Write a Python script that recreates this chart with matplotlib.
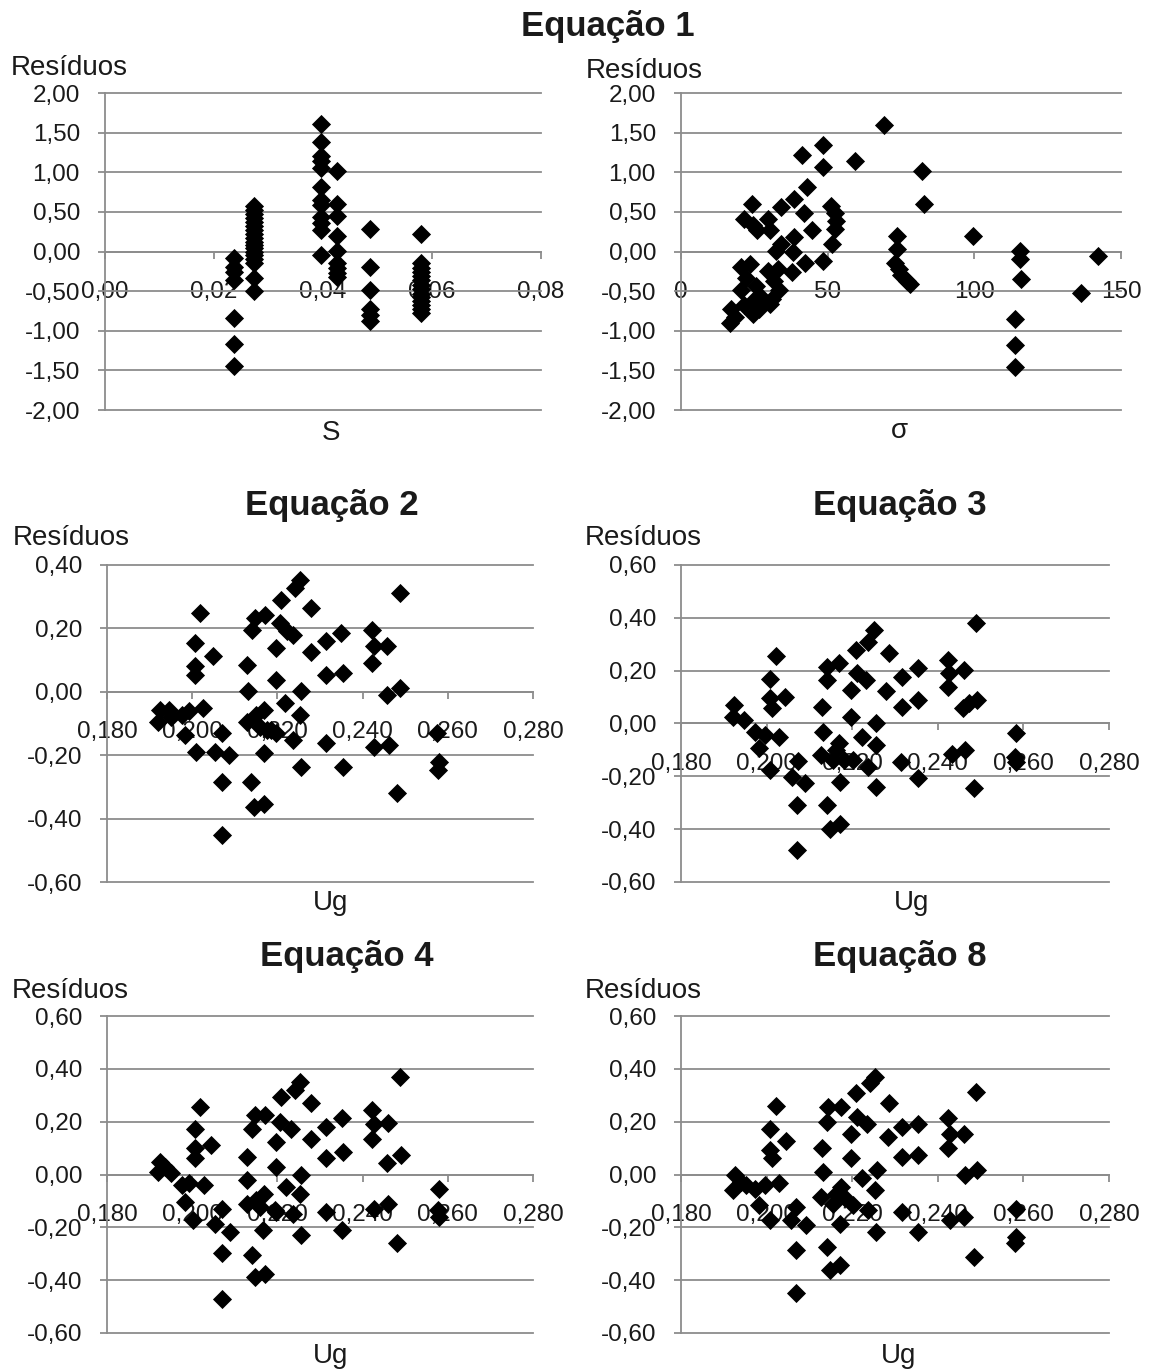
import matplotlib.pyplot as plt

plt.rcParams['font.family'] = ['Liberation Sans', 'DejaVu Sans']

# ---- Equação 1: resíduos x S ----
s_vals = [0.0237] * 7 + [0.0273] * 18 + [0.0396] * 12 + [0.0425] * 9 + [0.0486] * 6 + [0.0579] * 14
res_s = [-0.08, -0.19, -0.26, -0.36, -0.84, -1.17, -1.44,
         0.57, 0.52, 0.47, 0.42, 0.37, 0.32, 0.27, 0.22, 0.17, 0.12, 0.08, 0.04, 0.00, -0.04, -0.09, -0.14, -0.33, -0.50,
         1.61, 1.38, 1.21, 1.14, 1.05, 0.82, 0.65, 0.59, 0.44, 0.36, 0.27, -0.04,
         1.02, 0.60, 0.45, 0.19, 0.01, -0.15, -0.21, -0.27, -0.32,
         0.29, -0.19, -0.49, -0.72, -0.80, -0.88,
         0.22, -0.15, -0.21, -0.26, -0.31, -0.36, -0.42, -0.47, -0.53, -0.58, -0.63, -0.68, -0.73, -0.77]

# ---- Equação 1: resíduos x sigma ----
sigma_vals = [69.3, 48.4, 41.3, 59.3, 48.4, 82.0, 43.1, 38.6, 24.1, 34.2, 82.8, 51.1, 42.1, 52.4, 21.4, 29.8,
              52.8, 24.7, 26.0, 30.4, 44.6, 52.6, 73.5, 99.5, 38.6, 51.5, 34.2, 32.3, 73.7, 115.6, 38.3, 142.2,
              42.3, 48.4, 73.1, 115.6, 20.3, 23.5, 74.4, 32.9, 37.9, 29.8, 22.2, 31.6, 75.0, 115.8, 76.9, 78.1,
              20.3, 25.4, 33.5, 136.3, 27.3, 24.7, 30.4, 21.6, 17.2, 24.7, 18.5, 16.6, 113.9, 113.9, 113.9, 26.6, 31.0]
res_sigma = [1.60, 1.35, 1.22, 1.14, 1.06, 1.02, 0.82, 0.66, 0.60, 0.56, 0.60, 0.58, 0.48, 0.48, 0.41, 0.41,
             0.39, 0.33, 0.27, 0.27, 0.27, 0.29, 0.20, 0.20, 0.18, 0.10, 0.10, 0.01, 0.03, 0.01, -0.01, -0.06,
             -0.14, -0.12, -0.14, -0.09, -0.20, -0.16, -0.22, -0.22, -0.26, -0.24, -0.33, -0.37, -0.30, -0.35, -0.37, -0.41,
             -0.49, -0.43, -0.49, -0.52, -0.58, -0.62, -0.66, -0.68, -0.73, -0.79, -0.83, -0.90, -0.85, -1.18, -1.46, -0.73, -0.60]

# ---- Equação 2 ----
ug_eq2 = [0.1924, 0.1920, 0.1946, 0.1950, 0.1976, 0.1993, 0.1982, 0.2019, 0.2006, 0.2006, 0.2006, 0.2048, 0.2026,
          0.2009, 0.2070, 0.2054, 0.2086, 0.2070, 0.2070, 0.2128, 0.2130, 0.2141, 0.2148, 0.2171, 0.2128, 0.2150,
          0.2169, 0.2158, 0.2176, 0.2169, 0.2139, 0.2145, 0.2169, 0.2197, 0.2197, 0.2209, 0.2206, 0.2223, 0.2236,
          0.2197, 0.2219, 0.2236, 0.2241, 0.2254, 0.2255, 0.2252, 0.2255, 0.2278, 0.2280, 0.2315, 0.2315, 0.2315,
          0.2349, 0.2353, 0.2353, 0.2423, 0.2427, 0.2423, 0.2427, 0.2458, 0.2458, 0.2462, 0.2488, 0.2488, 0.2481,
          0.2575, 0.2579, 0.2577, 0.2184]
res_eq2 = [-0.057, -0.094, -0.057, -0.078, -0.073, -0.062, -0.136, 0.249, 0.154, 0.080, 0.054, 0.112, -0.052,
           -0.189, -0.131, -0.189, -0.199, -0.286, -0.452, 0.085, 0.001, 0.196, 0.233, 0.243, -0.094, -0.073,
           -0.057, -0.110, -0.120, -0.194, -0.286, -0.362, -0.355, 0.038, 0.138, 0.291, 0.217, 0.191, 0.180,
           -0.131, -0.036, -0.152, 0.328, 0.354, 0.001, -0.073, -0.236, 0.264, 0.127, 0.159, 0.054, -0.162,
           0.185, 0.059, -0.236, 0.196, 0.143, 0.091, -0.173, 0.143, -0.009, -0.168, 0.312, 0.012, -0.320,
           -0.131, -0.220, -0.247, -0.120]

# ---- Equação 3 ----
ug_eq3 = [0.1924, 0.1922, 0.1948, 0.1974, 0.1996, 0.1983, 0.2007, 0.2030, 0.2022, 0.2007, 0.2009, 0.2013, 0.2043,
          0.2073, 0.2059, 0.2089, 0.2071, 0.2071, 0.2129, 0.2132, 0.2141, 0.2141, 0.2170, 0.2127, 0.2162, 0.2168,
          0.2155, 0.2172, 0.2140, 0.2149, 0.2172, 0.2198, 0.2198, 0.2209, 0.2211, 0.2233, 0.2201, 0.2224, 0.2237,
          0.2250, 0.2256, 0.2256, 0.2237, 0.2256, 0.2285, 0.2280, 0.2317, 0.2317, 0.2315, 0.2353, 0.2353, 0.2353,
          0.2425, 0.2427, 0.2425, 0.2434, 0.2461, 0.2460, 0.2463, 0.2491, 0.2489, 0.2485, 0.2582, 0.2580, 0.2582,
          0.2181, 0.2474]
res_eq3 = [0.070, 0.026, 0.013, -0.031, -0.044, -0.094, -0.176, -0.050, 0.256, 0.169, 0.095, 0.058, 0.102,
           -0.142, -0.202, -0.227, -0.309, -0.480, 0.064, -0.031, 0.215, 0.165, 0.228, -0.120, -0.101, -0.075,
           -0.139, -0.221, -0.309, -0.398, -0.379, 0.127, 0.026, 0.279, 0.190, 0.165, -0.139, -0.050, 0.310,
           0.354, 0.001, -0.081, -0.164, -0.240, 0.266, 0.124, 0.177, 0.064, -0.145, 0.209, 0.089, -0.208,
           0.241, 0.190, 0.140, -0.117, 0.203, 0.058, -0.101, 0.089, 0.380, -0.246, -0.037, -0.126, -0.145,
           -0.139, 0.076]

# ---- Equação 4 ----
ug_eq4 = [0.1924, 0.1920, 0.1937, 0.1950, 0.1976, 0.1993, 0.1983, 0.2002, 0.2028, 0.2019, 0.2006, 0.2006, 0.2006,
          0.2045, 0.2070, 0.2054, 0.2089, 0.2070, 0.2070, 0.2128, 0.2128, 0.2141, 0.2148, 0.2171, 0.2128, 0.2150,
          0.2169, 0.2158, 0.2166, 0.2141, 0.2148, 0.2171, 0.2197, 0.2197, 0.2209, 0.2206, 0.2232, 0.2197, 0.2220,
          0.2236, 0.2241, 0.2254, 0.2255, 0.2254, 0.2255, 0.2278, 0.2280, 0.2315, 0.2315, 0.2315, 0.2351, 0.2353,
          0.2351, 0.2423, 0.2427, 0.2423, 0.2427, 0.2460, 0.2458, 0.2460, 0.2488, 0.2490, 0.2481, 0.2579, 0.2577,
          0.2579, 0.2194]
res_eq4 = [0.048, 0.010, 0.029, 0.004, -0.040, -0.034, -0.104, -0.173, -0.040, 0.256, 0.171, 0.099, 0.063,
           0.111, -0.129, -0.186, -0.217, -0.299, -0.470, 0.067, -0.021, 0.174, 0.225, 0.225, -0.110, -0.097,
           -0.072, -0.123, -0.211, -0.306, -0.388, -0.375, 0.029, 0.124, 0.294, 0.200, 0.174, -0.141, -0.047,
           -0.148, 0.320, 0.351, -0.003, -0.072, -0.230, 0.269, 0.136, 0.181, 0.061, -0.141, 0.212, 0.086,
           -0.211, 0.244, 0.193, 0.136, -0.129, 0.196, 0.042, -0.110, 0.370, 0.073, -0.261, -0.053, -0.135,
           -0.160, -0.135]

# ---- Equação 8 ----
ug_eq8 = [0.1927, 0.1922, 0.1940, 0.1953, 0.1974, 0.1996, 0.1983, 0.2007, 0.2030, 0.2022, 0.2007, 0.2009, 0.2013,
          0.2046, 0.2069, 0.2056, 0.2091, 0.2069, 0.2069, 0.2129, 0.2132, 0.2141, 0.2143, 0.2174, 0.2127, 0.2162,
          0.2174, 0.2155, 0.2172, 0.2140, 0.2149, 0.2172, 0.2198, 0.2198, 0.2209, 0.2211, 0.2235, 0.2201, 0.2224,
          0.2237, 0.2241, 0.2254, 0.2259, 0.2254, 0.2256, 0.2285, 0.2283, 0.2317, 0.2317, 0.2316, 0.2353, 0.2353,
          0.2353, 0.2425, 0.2429, 0.2425, 0.2429, 0.2461, 0.2463, 0.2461, 0.2489, 0.2491, 0.2485, 0.2582, 0.2582,
          0.2580, 0.2181]
res_eq8 = [-0.003, -0.059, -0.028, -0.040, -0.053, -0.040, -0.116, -0.173, -0.034, 0.259, 0.171, 0.092, 0.061,
           0.128, -0.123, -0.173, -0.192, -0.284, -0.448, 0.099, 0.010, 0.200, 0.256, 0.256, -0.085, -0.072,
           -0.047, -0.110, -0.186, -0.274, -0.360, -0.344, 0.061, 0.155, 0.307, 0.219, 0.193, -0.116, -0.015,
           -0.135, 0.345, 0.370, 0.016, -0.059, -0.217, 0.269, 0.143, 0.181, 0.067, -0.141, 0.193, 0.073,
           -0.217, 0.212, 0.155, 0.099, -0.173, 0.155, -0.003, -0.160, 0.313, 0.016, -0.312, -0.129, -0.236,
           -0.261, -0.085]

# ticks and labels
s_ticks = [0.0, 0.02, 0.04, 0.06, 0.08]
s_labels = ['0,00', '0,02', '0,04', '0,06', '0,08']
sigma_ticks = [0, 50, 100, 150]
sigma_labels = ['0', '50', '100', '150']
ug_ticks = [0.18, 0.20, 0.22, 0.24, 0.26, 0.28]
ug_labels = ['0,180', '0,200', '0,220', '0,240', '0,260', '0,280']
res1_ticks = [-2.0, -1.5, -1.0, -0.5, 0.0, 0.5, 1.0, 1.5, 2.0]
res1_labels = ['-2,00', '-1,50', '-1,00', '-0,50', '0,00', '0,50', '1,00', '1,50', '2,00']
res2_ticks = [-0.6, -0.4, -0.2, 0.0, 0.2, 0.4]
res2_labels = ['-0,60', '-0,40', '-0,20', '0,00', '0,20', '0,40']
res3_ticks = [-0.6, -0.4, -0.2, 0.0, 0.2, 0.4, 0.6]
res3_labels = ['-0,60', '-0,40', '-0,20', '0,00', '0,20', '0,40', '0,60']

W, H = 1151, 1371
GRID = '#8c8c8c'
TXT = '#1a1a1a'

fig = plt.figure(figsize=(W / 100, H / 100), dpi=100)


def px_axes(left, right, top, bottom):
    return fig.add_axes([left / W, 1 - bottom / H, (right - left) / W, (bottom - top) / H])


def excel_scatter(ax, x, y, xt, xl, yt, yl):
    ax.scatter(x, y, marker='D', s=95, color='black', linewidths=0, zorder=3, clip_on=False)
    ax.set_xlim(xt[0], xt[-1])
    ax.set_ylim(yt[0], yt[-1])
    ax.set_xticks(xt)
    ax.set_xticklabels(xl)
    ax.set_yticks(yt)
    ax.set_yticklabels(yl)
    for side in ['top', 'right']:
        ax.spines[side].set_visible(False)
    ax.spines['bottom'].set_position(('data', 0))
    for side in ['left', 'bottom']:
        ax.spines[side].set_color(GRID)
        ax.spines[side].set_linewidth(1.3)
    ax.yaxis.grid(True, color=GRID, linewidth=1.3)
    ax.set_axisbelow(True)
    ax.tick_params(axis='x', direction='out', length=5, width=1.3, color=GRID,
                   labelsize=17.5, labelcolor=TXT, pad=16)
    ax.tick_params(axis='y', direction='out', length=5, width=1.3, color=GRID,
                   labelsize=17.5, labelcolor=TXT, pad=13)
    for gl in ax.get_ygridlines():
        gl.set_clip_on(False)


ax1 = px_axes(105, 541, 93, 410)
excel_scatter(ax1, s_vals, res_s, s_ticks, s_labels, res1_ticks, res1_labels)
ax2 = px_axes(681, 1121, 93, 410)
excel_scatter(ax2, sigma_vals, res_sigma, sigma_ticks, sigma_labels, res1_ticks, res1_labels)
ax3 = px_axes(107, 533, 565, 882)
excel_scatter(ax3, ug_eq2, res_eq2, ug_ticks, ug_labels, res2_ticks, res2_labels)
ax4 = px_axes(681, 1109, 565, 882)
excel_scatter(ax4, ug_eq3, res_eq3, ug_ticks, ug_labels, res3_ticks, res3_labels)
ax5 = px_axes(107, 533, 1016, 1333)
excel_scatter(ax5, ug_eq4, res_eq4, ug_ticks, ug_labels, res3_ticks, res3_labels)
ax6 = px_axes(681, 1109, 1016, 1333)
excel_scatter(ax6, ug_eq8, res_eq8, ug_ticks, ug_labels, res3_ticks, res3_labels)


def ptext(x, y, s, size, ha='center', weight='normal'):
    fig.text(x / W, 1 - y / H, s, fontsize=size, ha=ha, va='baseline',
             fontweight=weight, color=TXT)


# titles
ptext(608, 36, 'Equação 1', 25, weight='bold')
ptext(332, 515, 'Equação 2', 25, weight='bold')
ptext(900, 515, 'Equação 3', 25, weight='bold')
ptext(347, 966, 'Equação 4', 25, weight='bold')
ptext(900, 966, 'Equação 8', 25, weight='bold')

# y axis titles
ptext(11, 75, 'Resíduos', 20, ha='left')
ptext(586, 78, 'Resíduos', 20, ha='left')
ptext(13, 545, 'Resíduos', 20, ha='left')
ptext(585, 545, 'Resíduos', 20, ha='left')
ptext(12, 998, 'Resíduos', 20, ha='left')
ptext(585, 998, 'Resíduos', 20, ha='left')

# x axis titles
ptext(331, 440, 'S', 20)
ptext(899, 438, 'σ', 20)
ptext(331, 910, 'Ug', 20)
ptext(912, 910, 'Ug', 20)
ptext(331, 1363, 'Ug', 20)
ptext(899, 1363, 'Ug', 20)

fig.savefig('out.png', dpi=100)
